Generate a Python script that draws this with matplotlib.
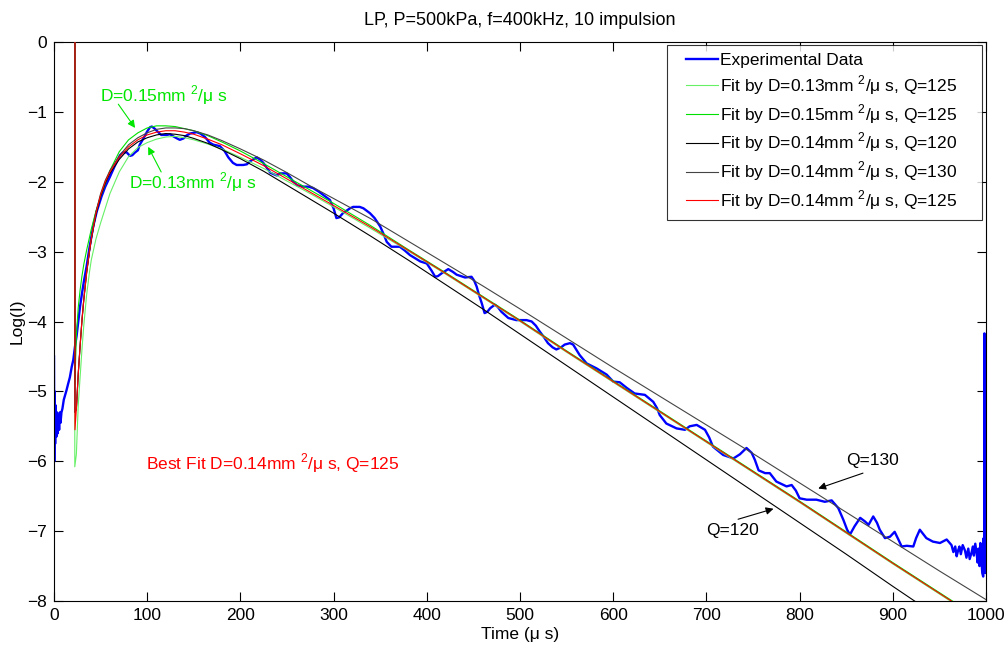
import matplotlib
matplotlib.use('Agg')
import matplotlib.pyplot as plt
from matplotlib.legend_handler import HandlerLine2D

plt.rcParams['font.family'] = ['Liberation Sans', 'DejaVu Sans']
plt.rcParams['mathtext.fontset'] = 'custom'
plt.rcParams['mathtext.rm'] = 'Liberation Sans'

exp_t = [0, 0.3, 0.7, 1.2, 1.8, 2.5, 3.2, 4, 4.8, 5.5, 6.3, 7, 8, 9, 10.5, 12, 13.5, 15, 17, 19,
         20.7, 22.5, 24.3, 26, 27.9, 30, 32, 35, 38, 42, 46, 51, 55, 60, 65, 70.8, 74, 78, 81.5, 84,
         87, 90, 92, 96, 100, 103, 105, 108, 111, 115, 121, 124.5, 128, 132, 135, 139, 142, 146, 153, 157,
         162, 167, 171, 178, 183, 187, 192, 196, 203, 207, 210, 217.5, 221, 224.6, 232, 239, 242.5, 249.6, 253, 256.8,
         261, 267.5, 273, 278, 284, 289, 296, 300, 303, 306, 310, 317.6, 321, 328, 332, 339, 344, 350, 354, 357,
         362, 371, 376, 382, 388, 393, 400, 405, 409, 412, 416, 423, 428, 432, 441, 448, 451, 453.5, 456, 459,
         462, 465, 468, 473, 476, 480, 487.5, 496, 507, 512.5, 517, 521, 526, 530, 535, 539, 544, 548, 553.6, 557,
         564, 571.5, 582, 593, 600, 607, 614.5, 623, 634, 643, 647, 650, 657, 668, 677, 682, 689.6, 698.5, 703, 707,
         718, 729, 736, 743, 748.6, 752, 756, 763, 768, 775, 786, 791.5, 796, 800, 807.6, 818, 827, 834.4, 841.5, 847,
         851, 854, 859, 865, 870, 874, 879, 883, 886, 891.6, 897, 902, 906, 909.5, 915, 922, 925, 929, 936, 943,
         950.6, 957.8, 963, 965, 967, 968.5, 970, 971.5, 973, 975, 977.5, 979, 981, 982.5, 984.6, 986, 987, 988.5, 990, 991,
         992, 993, 994, 995, 996, 997, 997.5, 998, 998.3, 998.6, 999, 999.5, 1000]
exp_y = [-4.5, -6.0, -5.0, -5.75, -5.2, -5.65, -5.3, -5.6, -5.35, -5.55, -5.3, -5.45, -5.3, -5.25, -5.12, -5.05, -4.98, -4.9, -4.8, -4.65,
         -4.55, -4.36, -4.2, -4.0, -3.79, -3.6, -3.43, -3.21, -2.95, -2.64, -2.42, -2.21, -2.07, -1.93, -1.78, -1.62, -1.58, -1.58, -1.63, -1.62,
         -1.58, -1.55, -1.47, -1.38, -1.28, -1.22, -1.21, -1.24, -1.28, -1.33, -1.33, -1.32, -1.35, -1.38, -1.40, -1.38, -1.34, -1.31, -1.29, -1.31,
         -1.36, -1.44, -1.47, -1.49, -1.56, -1.65, -1.73, -1.76, -1.76, -1.75, -1.71, -1.65, -1.68, -1.73, -1.87, -1.91, -1.88, -1.88, -1.93, -2.0,
         -2.05, -2.07, -2.07, -2.09, -2.14, -2.19, -2.26, -2.38, -2.52, -2.51, -2.45, -2.38, -2.36, -2.36, -2.38, -2.45, -2.52, -2.64, -2.76, -2.86,
         -2.93, -2.93, -2.98, -3.05, -3.10, -3.14, -3.17, -3.27, -3.36, -3.35, -3.31, -3.25, -3.29, -3.33, -3.37, -3.36, -3.42, -3.50, -3.62, -3.74,
         -3.88, -3.86, -3.81, -3.76, -3.79, -3.86, -3.95, -3.98, -3.98, -4.00, -4.06, -4.14, -4.23, -4.31, -4.37, -4.40, -4.37, -4.33, -4.31, -4.33,
         -4.48, -4.60, -4.67, -4.76, -4.86, -4.87, -4.95, -5.03, -5.05, -5.15, -5.24, -5.34, -5.46, -5.53, -5.55, -5.50, -5.48, -5.55, -5.66, -5.79,
         -5.91, -5.96, -5.90, -5.81, -5.88, -5.98, -6.13, -6.17, -6.17, -6.29, -6.36, -6.34, -6.42, -6.53, -6.55, -6.55, -6.58, -6.56, -6.67, -6.84,
         -6.98, -7.05, -6.93, -6.81, -6.86, -6.91, -6.79, -6.88, -6.98, -7.10, -7.08, -7.01, -7.12, -7.22, -7.21, -7.22, -7.10, -6.98, -7.10, -7.15,
         -7.17, -7.12, -7.20, -7.30, -7.22, -7.36, -7.28, -7.22, -7.33, -7.20, -7.28, -7.38, -7.25, -7.40, -7.30, -7.22, -7.35, -7.18, -7.32, -7.45,
         -7.25, -7.50, -7.17, -7.40, -7.60, -7.65, -7.1, -7.6, -4.17, -7.5, -7.3, -7.6, -7.3]

# fitted curves
fit_t = [24, 26, 28, 30, 32, 35, 38, 40, 45, 50, 55, 60, 70, 80, 90, 100, 110, 120, 130, 140,
         150, 165, 180, 200, 225, 250, 275, 300, 340, 380, 420, 460, 500, 550, 600, 650, 700, 750, 800, 850,
         900, 950, 1000]
fit_d013_q125 = [-5.9, -5.2, -4.8, -4.4, -4.05, -3.62, -3.30, -3.12, -2.82, -2.59, -2.38, -2.17, -1.86, -1.64, -1.51, -1.44, -1.39, -1.36, -1.35, -1.37,
                 -1.40, -1.46, -1.53, -1.65, -1.81, -1.99, -2.17, -2.36, -2.67, -2.99, -3.32, -3.66, -4.00, -4.44, -4.87, -5.30, -5.73, -6.16, -6.59, -7.03,
                 -7.47, -7.90, -8.33]
fit_d015_q125 = [-4.2, -3.8, -3.55, -3.35, -3.18, -2.98, -2.80, -2.68, -2.42, -2.21, -2.03, -1.84, -1.57, -1.40, -1.30, -1.23, -1.20, -1.20, -1.21, -1.24,
                 -1.27, -1.34, -1.43, -1.56, -1.74, -1.93, -2.12, -2.31, -2.63, -2.97, -3.30, -3.64, -3.98, -4.42, -4.85, -5.28, -5.71, -6.14, -6.57, -7.01,
                 -7.45, -7.88, -8.31]
fit_d014_q120 = [-5.26, -4.76, -4.36, -3.99, -3.69, -3.31, -3.01, -2.83, -2.47, -2.21, -2.02, -1.88, -1.68, -1.53, -1.43, -1.37, -1.33, -1.31, -1.32, -1.34,
                 -1.38, -1.45, -1.54, -1.67, -1.85, -2.05, -2.25, -2.45, -2.78, -3.12, -3.47, -3.82, -4.18, -4.63, -5.08, -5.53, -5.98, -6.43, -6.88, -7.33,
                 -7.79, -8.24, -8.69]
fit_d014_q130 = [-5.24, -4.74, -4.34, -3.97, -3.67, -3.29, -2.99, -2.81, -2.43, -2.17, -1.98, -1.84, -1.63, -1.47, -1.37, -1.30, -1.25, -1.23, -1.23, -1.24,
                 -1.27, -1.33, -1.41, -1.53, -1.69, -1.87, -2.06, -2.24, -2.53, -2.85, -3.17, -3.49, -3.82, -4.24, -4.66, -5.07, -5.48, -5.89, -6.31, -6.73,
                 -7.15, -7.57, -7.98]
fit_d014_q125 = [-5.25, -4.75, -4.35, -3.98, -3.68, -3.30, -3.00, -2.82, -2.45, -2.19, -2.00, -1.86, -1.65, -1.50, -1.40, -1.33, -1.29, -1.27, -1.27, -1.29,
                 -1.32, -1.39, -1.47, -1.60, -1.77, -1.96, -2.15, -2.34, -2.65, -2.98, -3.31, -3.65, -3.99, -4.43, -4.86, -5.29, -5.72, -6.15, -6.58, -7.02,
                 -7.46, -7.89, -8.32]

# start spikes of the fits: (time, lowest value)
spike_t = [22.3, 22.4, 22.5, 22.5, 22.5]
spike_low = [-6.08, -4.9, -5.3, -5.3, -5.55]

labels = ['Fit by D=0.13mm $^2$/\u03bc s, Q=125',
          'Fit by D=0.15mm $^2$/\u03bc s, Q=125',
          'Fit by D=0.14mm $^2$/\u03bc s, Q=120',
          'Fit by D=0.14mm $^2$/\u03bc s, Q=130',
          'Fit by D=0.14mm $^2$/\u03bc s, Q=125']
fits = [fit_d013_q125, fit_d015_q125, fit_d014_q120, fit_d014_q130, fit_d014_q125]
colors = ['#66f066', '#00e000', '#000000', '#444444', '#ff0000']

fs = 12.5

fig = plt.figure(figsize=(10.06, 6.48), dpi=100)
ax = fig.add_axes([54 / 1006, 47 / 648, 932 / 1006, 559 / 648])

ax.plot(exp_t, exp_y, color='#0000ff', lw=1.7, label='Experimental Data', zorder=2)
for i in range(len(fits)):
    tt = [spike_t[i], spike_t[i]] + fit_t
    yy = [1.0, spike_low[i]] + fits[i]
    ax.plot(tt, yy, color=colors[i], lw=0.8, label=labels[i], zorder=3)

ax.set_xlim(0, 1000)
ax.set_ylim(-8, 0)
ax.set_xticks(range(0, 1001, 100))
ax.set_yticks(range(-8, 1))
ax.tick_params(direction='in', length=6.5, width=0.8, top=True, right=True, labelsize=fs, pad=5)
for s in ax.spines.values():
    s.set_linewidth(0.8)

ax.set_title('LP, P=500kPa, f=400kHz, 10 impulsion', fontsize=13, pad=12)
ax.set_xlabel('Time (\u03bc s)', fontsize=fs, labelpad=3)
ax.set_ylabel('Log(I)', fontsize=fs, labelpad=2)

green_txt = '#00e600'
ax.text(49, -0.76, 'D=0.15mm $^2$/\u03bc s', color=green_txt, fontsize=fs, va='center')
ax.text(80, -2.0, 'D=0.13mm $^2$/\u03bc s', color=green_txt, fontsize=fs, va='center')
ax.text(99, -6.03, 'Best Fit D=0.14mm $^2$/\u03bc s, Q=125', color='#ff0000', fontsize=fs, va='center')
ax.text(850, -5.99, 'Q=130', color='black', fontsize=fs, va='center')
ax.text(700, -6.99, 'Q=120', color='black', fontsize=fs, va='center')

arrows = [((87, -1.23), (69, -0.89), green_txt),
          ((101, -1.50), (115, -1.86), green_txt),
          ((820, -6.39), (868, -6.17), 'black'),
          ((772, -6.68), (734, -6.83), 'black')]
for head, tail, c in arrows:
    ax.annotate('', xy=head, xytext=tail,
                arrowprops=dict(arrowstyle='-|>', color=c, lw=0.8, mutation_scale=11,
                                shrinkA=0, shrinkB=0))

leg = ax.legend(loc='upper right', bbox_to_anchor=(0.6577, 0.5, 0.338, 0.4946), mode='expand',
                fontsize=fs, frameon=True, fancybox=False, borderaxespad=0, handlelength=2.5,
                handletextpad=0.1, labelspacing=0.3, borderpad=0.45,
                handler_map={matplotlib.lines.Line2D: HandlerLine2D(xpad=0.63)})
leg.get_frame().set_edgecolor('black')
leg.get_frame().set_linewidth(0.8)

fig.savefig('out.png', dpi=100)
